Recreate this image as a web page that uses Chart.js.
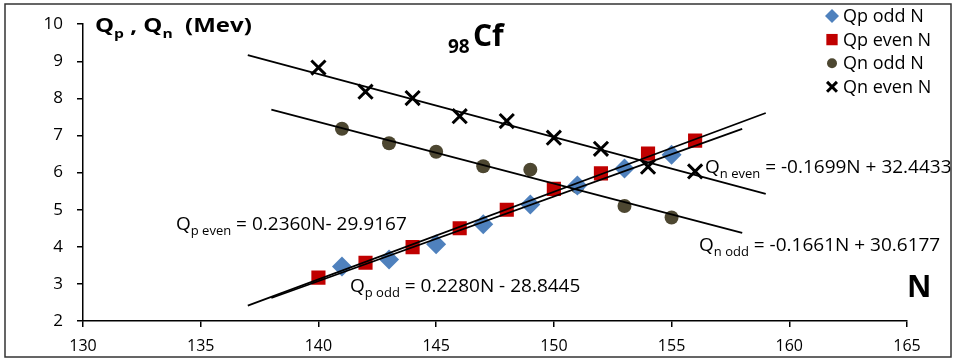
<!DOCTYPE html>
<html>
<head>
<meta charset="utf-8">
<title>Qp, Qn - 98Cf</title>
<script src="https://cdn.jsdelivr.net/npm/chart.js@4.4.0/dist/chart.umd.min.js"></script>
<style>
  html, body { margin: 0; padding: 0; background: #fff; }
</style>
</head>
<body>
<canvas id="chart" width="954" height="359"></canvas>
<script>
// Neutron numbers
const nOdd = [141, 143, 145, 147, 149, 151, 153, 155];
const nEven = [140, 142, 144, 146, 148, 150, 152, 154, 156];

// Q values (Mev)
const qpOdd = [3.47, 3.66, 4.07, 4.61, 5.14, 5.65, 6.11, 6.48];
const qpEven = [3.17, 3.57, 3.99, 4.50, 5.00, 5.56, 5.98, 6.51, 6.86];
const qnOdd = [7.18, 6.79, 6.56, 6.17, 6.08, 5.62, 5.10, 4.79];
const qnEven = [8.83, 8.18, 8.01, 7.52, 7.39, 6.94, 6.64, 6.16, 6.03];

// linear fits printed on the figure: [slope, intercept]
const fitQpOdd = [0.2280, -28.8445];
const fitQpEven = [0.2360, -29.9167];
const fitQnOdd = [-0.1661, 30.6177];
const fitQnEven = [-0.1699, 32.4433];

// trendline extent (data range + 3 forward / backward)
const oddRange = [138, 158];
const evenRange = [137, 159];

const xTicks = [130, 135, 140, 145, 150, 155, 160, 165];
const yTicks = [2, 3, 4, 5, 6, 7, 8, 9, 10];

const legendLabels = ['Qp odd N', 'Qp even N', 'Qn odd N', 'Qn even N'];

const FONT = "'Open Sans', 'Liberation Sans', sans-serif";

function points(xs, ys) {
    return xs.map((x, i) => ({ x: x, y: ys[i] }));
}

function fitLine(fit, range) {
    return range.map(n => ({ x: n, y: fit[0] * n + fit[1] }));
}

function trend(fit, range) {
    return {
        type: 'line',
        data: fitLine(fit, range),
        borderColor: '#000',
        borderWidth: 1.8,
        pointRadius: 0,
        fill: false,
        order: 0
    };
}

// marker styles, also used for the legend
const markers = [
    { pointStyle: 'rectRot', radius: 10, legendRadius: 7, color: '#4F81BD', borderWidth: 0 },
    { pointStyle: 'rect', radius: 10, legendRadius: 8, color: '#C00000', borderWidth: 0 },
    { pointStyle: 'circle', radius: 7, legendRadius: 5, color: '#4D4731', borderWidth: 0 },
    { pointStyle: 'crossRot', radius: 10, legendRadius: 7, color: '#000', borderWidth: 3 }
];

function scatter(xs, ys, i) {
    const m = markers[i];
    return {
        type: 'scatter',
        label: legendLabels[i],
        data: points(xs, ys),
        pointStyle: m.pointStyle,
        pointRadius: m.radius,
        pointBackgroundColor: m.color,
        pointBorderColor: m.color,
        pointBorderWidth: m.borderWidth,
        showLine: false,
        order: 1
    };
}

// draw text made of [text, isSubscript] parts, starting at x on baseline y
function drawParts(ctx, x, y, parts, size, subSize, bold, sx) {
    const w = bold ? 'bold ' : '';
    ctx.save();
    ctx.translate(x, y);
    ctx.scale(sx || 1, 1);
    let cx = 0;
    parts.forEach(p => {
        const sub = p[1];
        ctx.font = w + (sub ? subSize : size) + 'px ' + FONT;
        ctx.fillText(p[0], cx, sub ? Math.round(size * 0.28) : 0);
        cx += ctx.measureText(p[0]).width;
    });
    ctx.restore();
}

const decorations = {
    id: 'decorations',
    beforeDraw(chart) {
        const ctx = chart.ctx;
        ctx.save();
        ctx.fillStyle = '#fff';
        ctx.fillRect(0, 0, chart.width, chart.height);
        ctx.restore();
    },
    afterDraw(chart) {
        const ctx = chart.ctx;
        ctx.save();
        ctx.fillStyle = '#000';
        ctx.textBaseline = 'alphabetic';
        ctx.textAlign = 'left';

        // axis title
        drawParts(ctx, 95, 32, [['Q', 0], ['p', 1], [' , Q', 0], ['n', 1], ['  (Mev)', 0]], 20, 13, true, 1.2);
        // nucleus title
        drawParts(ctx, 448, 53, [['98', 0]], 19, 19, true);
        drawParts(ctx, 473, 46, [['Cf', 0]], 30, 30, true);
        // x axis name
        drawParts(ctx, 907, 297, [['N', 0]], 30, 30, true);

        // fit equations
        drawParts(ctx, 176, 230, [['Q', 0], ['p even', 1], [' = 0.2360N- 29.9167', 0]], 19, 13, false);
        drawParts(ctx, 350, 292, [['Q', 0], ['p odd', 1], [' = 0.2280N - 28.8445', 0]], 19, 13, false);
        drawParts(ctx, 705, 173, [['Q', 0], ['n even', 1], [' = -0.1699N + 32.4433', 0]], 19, 13, false);
        drawParts(ctx, 699, 251, [['Q', 0], ['n odd', 1], [' = -0.1661N + 30.6177', 0]], 19, 13, false);

        // legend
        ctx.font = '18px ' + FONT;
        ctx.textBaseline = 'middle';
        markers.forEach((m, i) => {
            const y = 16 + i * 23.6;
            ctx.fillStyle = m.color;
            ctx.strokeStyle = m.color;
            ctx.lineWidth = m.borderWidth;
            Chart.helpers.drawPoint(ctx, {
                pointStyle: m.pointStyle,
                radius: m.legendRadius,
                borderWidth: m.borderWidth,
                rotation: 0
            }, 832, y);
            ctx.fillStyle = '#000';
            ctx.fillText(legendLabels[i], 843, y + 1);
        });

        // outer frame
        ctx.strokeStyle = '#333';
        ctx.lineWidth = 1.5;
        ctx.strokeRect(5, 4, 946, 353);
        ctx.restore();
    }
};

new Chart(document.getElementById('chart'), {
    data: {
        datasets: [
            trend(fitQpEven, evenRange),
            trend(fitQpOdd, oddRange),
            trend(fitQnEven, evenRange),
            trend(fitQnOdd, oddRange),
            scatter(nOdd, qpOdd, 0),
            scatter(nEven, qpEven, 1),
            scatter(nOdd, qnOdd, 2),
            scatter(nEven, qnEven, 3)
        ]
    },
    options: {
        responsive: false,
        animation: false,
        devicePixelRatio: 1,
        layout: { padding: { left: 0, top: 19, right: 47, bottom: 0 } },
        plugins: {
            legend: { display: false },
            tooltip: { enabled: false }
        },
        scales: {
            x: {
                type: 'linear',
                min: xTicks[0],
                max: xTicks[xTicks.length - 1],
                ticks: {
                    stepSize: xTicks[1] - xTicks[0],
                    font: { family: FONT, size: 16 },
                    color: '#000',
                    padding: 10
                },
                grid: { drawOnChartArea: false, drawTicks: true, tickLength: 6, color: '#000', lineWidth: 1.5 },
                border: { display: true, color: '#000', width: 1.5 },
                afterFit(scale) { scale.height = 38; }
            },
            y: {
                type: 'linear',
                min: yTicks[0],
                max: yTicks[yTicks.length - 1],
                ticks: {
                    stepSize: yTicks[1] - yTicks[0],
                    font: { family: FONT, size: 17 },
                    color: '#000',
                    padding: 14
                },
                grid: { drawOnChartArea: false, drawTicks: true, tickLength: 6, color: '#000', lineWidth: 1.5 },
                border: { display: true, color: '#000', width: 1.5 },
                afterFit(scale) { scale.width = 83; }
            }
        }
    },
    plugins: [decorations]
});
</script>
</body>
</html>
